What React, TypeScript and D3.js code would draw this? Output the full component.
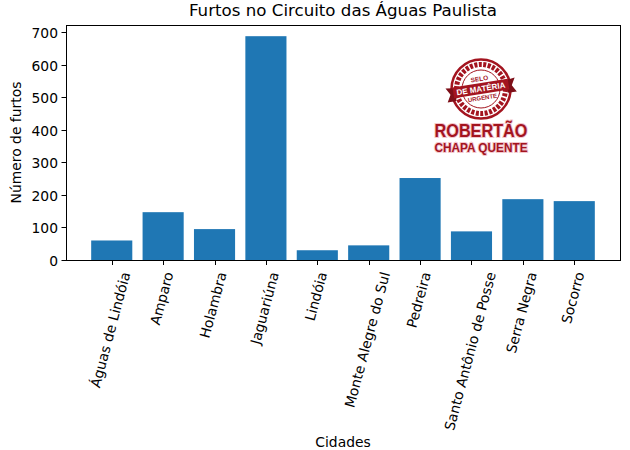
import React, { useEffect, useRef } from "react";
import * as d3 from "d3";

const cities = ["Águas de Lindóia","Amparo","Holambra","Jaguariúna","Lindóia","Monte Alegre do Sul","Pedreira","Santo Antônio de Posse","Serra Negra","Socorro"];
const furtos = [60,147,95,688,30,45,252,88,187,181];
const yTicks = [0,100,200,300,400,500,600,700];
const title = "Furtos no Circuito das Águas Paulista";
const xLabel = "Cidades";
const yLabel = "Número de furtos";

const W = 630, H = 450;
const L = 66, R = 620, T = 25, B = 260;
const FONT = "'DejaVu Sans', sans-serif";
const RED = "#a3141f";

export default function App() {
  const ref = useRef<SVGSVGElement>(null);
  useEffect(() => {
    const svg = d3.select(ref.current!);
    svg.selectAll("*").remove();
    svg.append("rect").attr("width", W).attr("height", H).attr("fill", "#fff");

    const x = d3.scaleLinear().domain([-0.89, 9.89]).range([L, R]);
    const y = d3.scaleLinear().domain([0, 722.4]).range([B, T]);
    const bw = x(0.8) - x(0);

    svg.append("g").selectAll("rect").data(furtos).join("rect")
      .attr("x", (_, i) => x(i) - bw / 2)
      .attr("y", d => y(d))
      .attr("width", bw)
      .attr("height", d => y(0) - y(d))
      .attr("fill", "#1f77b4");

    svg.append("rect").attr("x", L + 0.5).attr("y", T + 0.5).attr("width", R - L).attr("height", B - T)
      .attr("fill", "none").attr("stroke", "#000").attr("stroke-width", 1);

    const yg = svg.append("g");
    yTicks.forEach(t => {
      const py = Math.round(y(t)) + 0.5;
      yg.append("line").attr("x1", L - 4.5).attr("x2", L).attr("y1", py).attr("y2", py).attr("stroke", "#000");
      yg.append("text").attr("x", L - 8).attr("y", py + 5).attr("text-anchor", "end")
        .attr("font-family", FONT).attr("font-size", 13.89).attr("fill", "#000").text(String(t));
    });

    const xg = svg.append("g");
    cities.forEach((c, i) => {
      const px = Math.round(x(i)) + 0.5;
      xg.append("line").attr("x1", px).attr("x2", px).attr("y1", B).attr("y2", B + 5).attr("stroke", "#000");
      const t = xg.append("text").attr("text-anchor", "middle").attr("font-family", FONT)
        .attr("font-size", 13.89).attr("fill", "#000").text(c);
      const len = (t.node() as SVGTextElement).getComputedTextLength();
      const a = 75 * Math.PI / 180;
      const cy = 270.5 + (len * Math.sin(a) + 13 * Math.cos(a)) / 2;
      t.attr("transform", `translate(${x(i) - 1.5},${cy}) rotate(-75)`).attr("dy", "0.36em");
    });

    svg.append("text").attr("x", (L + R) / 2).attr("y", 16).attr("text-anchor", "middle")
      .attr("font-family", FONT).attr("font-size", 16.67).attr("fill", "#000").text(title);
    svg.append("text").attr("x", (L + R) / 2).attr("y", 447).attr("text-anchor", "middle")
      .attr("font-family", FONT).attr("font-size", 13.89).attr("fill", "#000").text(xLabel);
    svg.append("text").attr("transform", `translate(21,${(T + B) / 2}) rotate(-90)`).attr("text-anchor", "middle")
      .attr("font-family", FONT).attr("font-size", 13.89).attr("fill", "#000").text(yLabel);

    // stamp
    const s = svg.append("g").attr("transform", "translate(481,89)");
    s.append("circle").attr("r", 29.5).attr("fill", "#fff").attr("stroke", RED).attr("stroke-width", 2.5);
    s.append("circle").attr("r", 24.5).attr("fill", "#fff").attr("stroke", RED).attr("stroke-width", 5).attr("stroke-dasharray", "3 1.5");
    s.append("circle").attr("r", 19).attr("fill", "#fff").attr("stroke", RED).attr("stroke-width", 1);
    const rib = s.append("g").attr("transform", "rotate(-9)");
    rib.append("path").attr("d", "M-35,-6 L-26,-5 L-26,8 L-35,8 L-31,1 Z M35,-6 L26,-5 L26,8 L35,8 L31,1 Z").attr("fill", "#7d0f18");
    rib.append("rect").attr("x", -28).attr("y", -6).attr("width", 56).attr("height", 11).attr("fill", RED);
    const st = (txt: string, yy: number, size: number, fill: string, parent = rib) =>
      parent.append("text").attr("x", 0).attr("y", yy).attr("text-anchor", "middle")
        .attr("font-family", "'Liberation Sans', sans-serif").attr("font-weight", 700)
        .attr("font-size", size).attr("fill", fill).text(txt);
    st("SELO", -8, 6.5, RED);
    st("DE MATÉRIA", 2.5, 8, "#fff");
    st("URGENTE", 11, 6, RED);

    const mk = (txt: string, yy: number, size: number, width: number) => {
      return svg.append("text").attr("x", 481).attr("y", yy).attr("text-anchor", "middle")
        .attr("font-family", "'Liberation Sans', sans-serif").attr("font-weight", 700)
        .attr("font-size", size).attr("fill", RED).attr("stroke", "#f3c6cc").attr("stroke-width", 2)
        .attr("paint-order", "stroke").attr("textLength", width).attr("lengthAdjust", "spacingAndGlyphs").text(txt);
    };
    mk("ROBERTÃO", 137, 17.5, 93);
    mk("CHAPA QUENTE", 151.5, 12.5, 93);
  }, []);
  return <svg ref={ref} width={W} height={H} style={{ position: "absolute", left: 0, top: 0 }} />;
}
